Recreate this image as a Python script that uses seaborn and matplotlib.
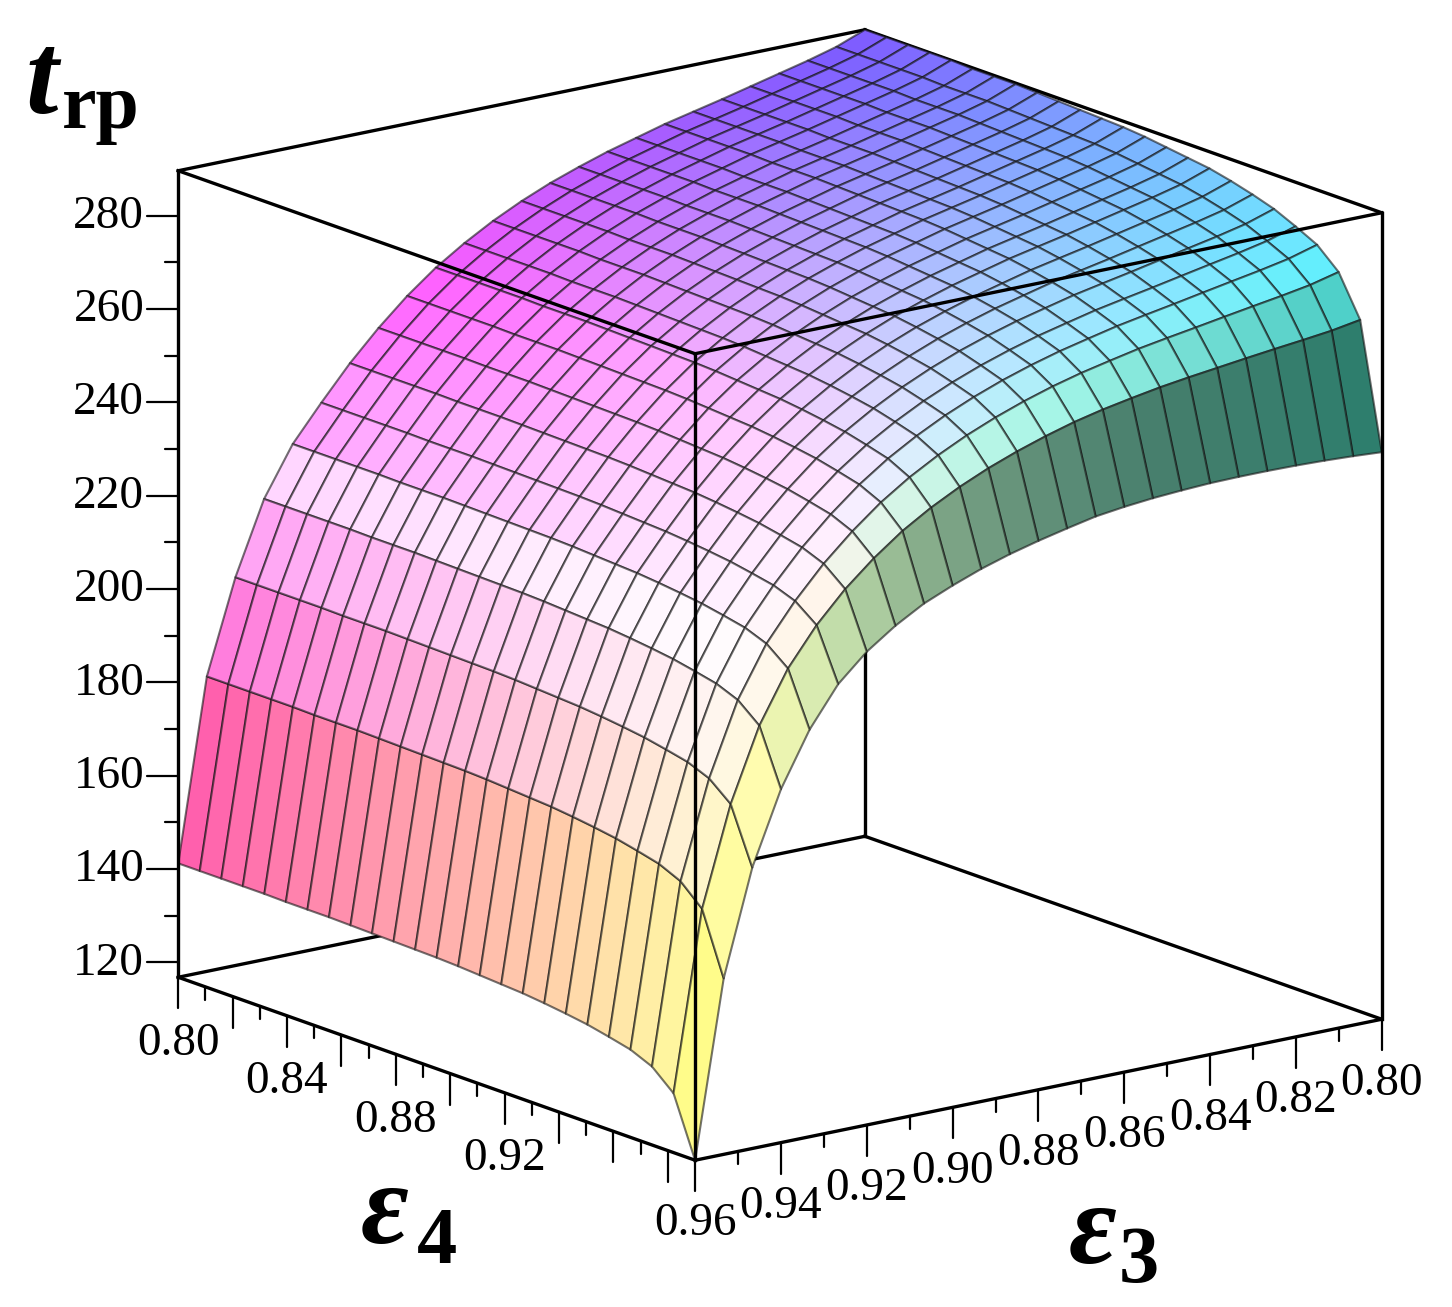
import numpy as np
import matplotlib
matplotlib.use("Agg")
import matplotlib.pyplot as plt
import seaborn as sns

sns.set_style("white")
plt.rcParams["font.family"] = ["Liberation Serif", "DejaVu Serif"]
plt.rcParams["text.color"] = "black"

# 25 x 25 grid of the surface
eps3 = np.linspace(0.80, 0.96, 25)
eps4 = np.linspace(0.80, 0.99, 25)

t_eps4_080 = [289.6, 287.2, 285.5, 284.0, 282.5, 281.0, 279.6, 278.2, 276.5,
              274.8, 272.8, 270.6, 268.0, 265.0, 261.5, 257.5, 252.7, 247.1,
              240.8, 233.6, 226.0, 215.5, 200.0, 180.0, 141.2]  # along eps3, eps4 = 0.80
t_eps4_099 = [238.3, 238.7, 239.0, 239.2, 239.3, 239.3, 239.2, 238.9, 238.5,
              237.9, 237.1, 235.8, 234.4, 232.8, 230.9, 228.6, 226.0, 222.5,
              218.2, 212.5, 204.0, 192.5, 177.0, 154.5, 116.8]  # along eps3, eps4 = 0.99
t_eps3_096 = [141.2, 141.2, 141.2, 141.2, 141.2, 141.1, 141.1, 141.1, 141.0,
              140.9, 140.8, 140.7, 140.6, 140.4, 140.1, 139.8, 139.5, 139.0,
              138.4, 137.7, 136.7, 135.6, 133.6, 129.5, 116.8]  # along eps4, eps3 = 0.96

z_major = [120, 140, 160, 180, 200, 220, 240, 260, 280]
z_minor = [130, 150, 170, 190, 210, 230, 250, 270]
eps4_ticks = np.round(np.arange(0.80, 0.985, 0.01), 2)
eps4_labels = [0.80, 0.84, 0.88, 0.92]
eps3_ticks = np.round(np.arange(0.80, 0.965, 0.01), 2)
eps3_labels = [0.80, 0.82, 0.84, 0.86, 0.88, 0.90, 0.92, 0.94, 0.96]

# table of the surface, built from the edge curves
lo_edge = np.array(t_eps4_099)
hi_edge = np.array(t_eps4_080)
shape4 = np.array(t_eps3_096)
w4 = (shape4 - shape4[-1]) / (shape4[0] - shape4[-1])
T = lo_edge[:, None] + (hi_edge - lo_edge)[:, None] * w4[None, :]
E3, E4 = np.meshgrid(eps3, eps4, indexing="ij")
zlo, zhi = T.min(), T.max()
x0, x1, y0, y1 = eps3[0], eps3[-1], eps4[0], eps4[-1]

elev, azim = 15.64, 52.71
aspect = np.array([863.6, 853.6, 838.0])

# colours: red ~ eps3, green ~ eps4, blue ~ height, with simple lighting
P = np.stack([(E3 - x0) / (x1 - x0) * aspect[0],
              (E4 - y0) / (y1 - y0) * aspect[1],
              (T - zlo) / (zhi - zlo) * aspect[2]], axis=-1)
d1 = P[1:, 1:] - P[:-1, :-1]
d2 = P[:-1, 1:] - P[1:, :-1]
nrm = np.cross(d1, d2)
nrm *= np.sign(nrm[..., 2:3])
nrm /= np.linalg.norm(nrm, axis=-1, keepdims=True)


def unit(v):
    v = np.array(v, dtype=float)
    return v / np.linalg.norm(v)


light = unit([0.55, -0.3, 0.78])
red_light = unit([0.8, -0.3, 0.5])
blue_light = unit([0.7, -0.3, 0.65])
shine = unit([0.82, 0.08, 0.57])
diff = np.clip(nrm @ light, 0, 1)
red = np.clip(nrm @ red_light, 0, 1) ** 3
blue = np.clip(nrm @ blue_light, 0, 1) ** 3
spec = np.clip(nrm @ shine, 0, 1) ** 40


def cell(a):
    return 0.25 * (a[:-1, :-1] + a[1:, :-1] + a[:-1, 1:] + a[1:, 1:])


base = np.stack([0.35 + 0.65 * (cell(E3) - x0) / (x1 - x0) + 0.35 * red,
                 0.35 + 0.65 * (cell(E4) - y0) / (y1 - y0),
                 0.35 + 0.65 * (cell(T) - zlo) / (zhi - zlo) + 0.3 * blue], axis=-1)
base = np.clip(base, 0, 1)
rgb = base * np.clip(0.5 + 1.0 * diff, 0, 1)[..., None]
rgb = rgb + (1 - rgb) * np.clip(0.85 * spec, 0, 1)[..., None]
fc = np.ones(T.shape + (4,))
fc[:-1, :-1, :3] = np.clip(rgb, 0, 1)

W, H = 1452, 1307
fig = plt.figure(figsize=(W / 100, H / 100), dpi=100)
side = 1300
ax = fig.add_axes([(780 - side / 2) / W, (H - 595 - side / 2) / H, side / W, side / H],
                  projection="3d", computed_zorder=False)
ax.set_proj_type("ortho")
ax.view_init(elev=elev, azim=azim)
zoom = 1.0
ax.set_box_aspect(aspect, zoom=zoom)
ax.set_xlim(x0, x1)
ax.set_ylim(y0, y1)
ax.set_zlim(zlo, zhi)
ax.set_axis_off()

surf = ax.plot_surface(E3, E4, T, facecolors=fc, shade=False, rstride=1, cstride=1,
                       antialiased=True, zorder=2)
surf.set_edgecolor((0.08, 0.08, 0.08, 0.6))
surf.set_linewidth(1.5)

# box frame
box_kw = dict(color="black", lw=2.4, solid_capstyle="projecting")
back = [((x0, x0), (y0, y0), (zlo, zhi)),
        ((x0, x1), (y0, y0), (zlo, zlo)), ((x0, x0), (y0, y1), (zlo, zlo)),
        ((x0, x1), (y0, y0), (zhi, zhi)), ((x0, x0), (y0, y1), (zhi, zhi))]
front = [((x1, x1), (y0, y0), (zlo, zhi)), ((x1, x1), (y1, y1), (zlo, zhi)),
         ((x0, x0), (y1, y1), (zlo, zhi)),
         ((x1, x1), (y0, y1), (zlo, zlo)), ((x0, x1), (y1, y1), (zlo, zlo)),
         ((x1, x1), (y0, y1), (zhi, zhi)), ((x0, x1), (y1, y1), (zhi, zhi))]
for e in back:
    ax.plot(*e, zorder=1, **box_kw)
for e in front:
    ax.plot(*e, zorder=3, **box_kw)


def project(x, y, z):
    v = ax.M @ np.vstack([np.atleast_1d(x), np.atleast_1d(y), np.atleast_1d(z),
                          np.ones(np.size(x))])
    return ax.transData.transform((v[:2] / v[3]).T)


corners = np.array([(a, b, c) for a in (x0, x1) for b in (y0, y1) for c in (zlo, zhi)]).T
# fit the box to its place in the picture
fig.canvas.draw()
p = project(*corners)
s = 0.5 * (1204 / np.ptp(p[:, 0]) + 1130 / np.ptp(p[:, 1]))
zoom *= s
ax.set_box_aspect(aspect, zoom=zoom)
fig.canvas.draw()
p = project(*corners)
dx = 780 - 0.5 * (p[:, 0].min() + p[:, 0].max())
dy = (H - 595) - 0.5 * (p[:, 1].min() + p[:, 1].max())
pos = ax.get_position()
ax.set_position([pos.x0 + dx / W, pos.y0 + dy / H, pos.width, pos.height])
fig.canvas.draw()

# pixel scales at the tick corners
c0 = project(x1, y0, zlo)[0]
pz = project(x1, y0, zlo + 1.0)[0][1] - c0[1]
j3 = project(x1 + 1e-3, y0, zlo)[0] - c0
j4 = project(x1, y0 + 1e-3, zlo)[0] - c0
J = np.column_stack([j3, j4]) / 1e-3
left = np.linalg.solve(J, [-1.0, 0.0])

tick_kw = dict(color="black", lw=1.6, zorder=3)
lab_kw = dict(fontsize=34, ha="center", va="center")


def ptext(xy, s, **kw):
    fig.text(xy[0] / W, xy[1] / H, s, **kw)


for zt in z_major + z_minor:
    L = 31 if zt in z_major else 13
    ax.plot([x1, x1 + left[0] * L], [y0, y0 + left[1] * L], [zt, zt], **tick_kw)
for zt in z_major:
    q = project(x1, y0, zt)[0]
    ptext((q[0] - 34, q[1] - 1), f"{zt}", fontsize=34, ha="right", va="center")

for v in eps4_ticks:
    L = 31 if round(v * 100) % 2 == 0 else 13
    ax.plot([x1, x1], [v, v], [zlo, zlo - L / pz], **tick_kw)
for v in eps4_labels:
    q = project(x1, v, zlo)[0]
    ptext((q[0], q[1] - 66), f"{v:.2f}", **lab_kw)

for v in eps3_ticks:
    L = 31 if round(v * 100) % 2 == 0 else 13
    ax.plot([v, v], [y1, y1], [zlo, zlo - L / pz], **tick_kw)
for v in eps3_labels:
    q = project(v, y1, zlo)[0]
    ptext((q[0], q[1] - 64), f"{v:.2f}", **lab_kw)


# axis titles
def ftext(x, y, s, **kw):
    fig.text(x / W, 1 - y / H, s, va="baseline", ha="left", **kw)


ftext(25, 113, "t", fontsize=84, fontweight="bold", fontstyle="italic")
ftext(62, 128, "rp", fontsize=56, fontweight="bold")
ftext(361, 1243, "ε", fontsize=84, fontweight="bold", fontstyle="italic")
ftext(417, 1263, "4", fontsize=58, fontweight="bold")
ftext(1069, 1263, "ε", fontsize=84, fontweight="bold", fontstyle="italic")
ftext(1119, 1282, "3", fontsize=58, fontweight="bold")

fig.savefig("out.png", dpi=100)
